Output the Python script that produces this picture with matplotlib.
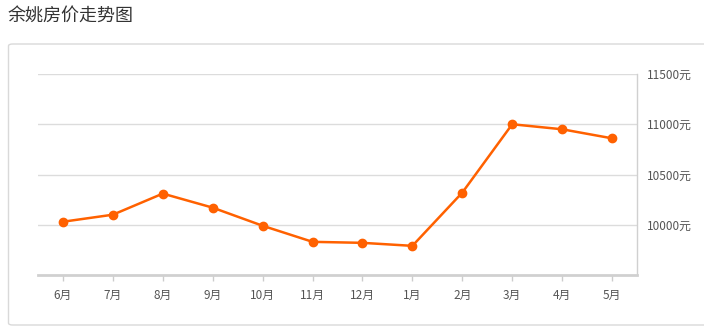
import matplotlib
matplotlib.use("Agg")
import matplotlib.pyplot as plt
from matplotlib.patches import FancyBboxPatch

plt.rcParams['font.family'] = ['Noto Sans CJK SC', 'DejaVu Sans']

title = "余姚房价走势图"
months = ["6月", "7月", "8月", "9月", "10月", "11月", "12月", "1月", "2月", "3月", "4月", "5月"]
prices = [10030, 10100, 10310, 10170, 9990, 9830, 9820, 9790, 10320, 11000, 10950, 10860]
yticks = [10000, 10500, 11000, 11500]
ytick_labels = [f"{v}元" for v in yticks]

W, H = 704, 332
fig = plt.figure(figsize=(W / 100, H / 100), dpi=100)

# outer panel
box = FancyBboxPatch((8.5 / W, (H - 325) / H), (W + 20) / W, (325 - 44) / H,
                     boxstyle="round,pad=0,rounding_size=0.006",
                     transform=fig.transFigure, facecolor="none",
                     edgecolor="#d9d9d9", linewidth=1.0, zorder=-5)
fig.patches.append(box)

fig.text(8 / W, 1 - 17 / H, title, fontsize=13, color="#333333",
         ha="left", va="center")

left, right, top, bottom = 38, 637, 74, 275
ax = fig.add_axes([left / W, (H - bottom) / H, (right - left) / W, (bottom - top) / H])
ax.set_facecolor("none")

x = list(range(len(months)))
ax.plot(x, prices, color="#ff6100", linewidth=1.8, marker="o", markersize=6,
        markerfacecolor="#ff6100", markeredgecolor="#ff6100", zorder=3, clip_on=False)

ax.set_xlim(-0.5, len(months) - 0.5)
ax.set_ylim(9500, 11500)

ax.set_yticks(yticks)
ax.set_yticklabels(ytick_labels)
ax.yaxis.tick_right()
ax.tick_params(axis="y", length=0, pad=7, labelsize=8.5, labelcolor="#555555")
ax.grid(axis="y", color="#dcdcdc", linewidth=1)
ax.set_axisbelow(True)

ax.set_xticks(x)
ax.set_xticklabels(months)
ax.tick_params(axis="x", length=4, width=1, color="#cccccc", pad=6,
               labelsize=8.5, labelcolor="#555555")

for s in ["left", "top"]:
    ax.spines[s].set_visible(False)
ax.spines["right"].set_color("#d0d0d0")
ax.spines["right"].set_linewidth(1)
ax.spines["bottom"].set_color("#d0d0d0")
ax.spines["bottom"].set_linewidth(2)

fig.savefig("out.png", dpi=100)
